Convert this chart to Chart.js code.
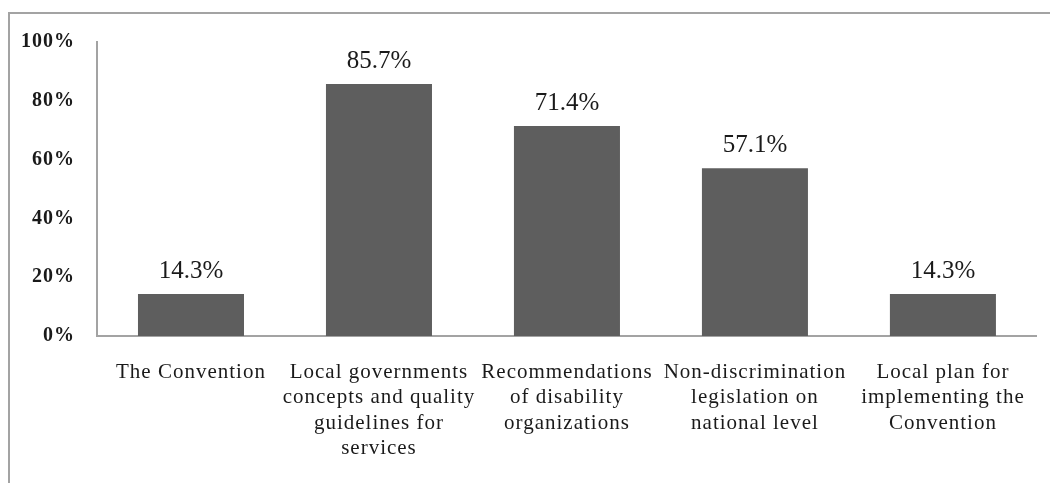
<!DOCTYPE html>
<html>
<head>
<meta charset="utf-8">
<script src="https://cdn.jsdelivr.net/npm/chart.js@4/dist/chart.umd.min.js"></script>
<style>
  html, body { margin: 0; padding: 0; background: #fff; }
  #wrap { position: relative; width: 1050px; height: 483px; overflow: hidden; }
  #frame { position: absolute; left: 8px; top: 12px; width: 1100px; height: 600px; border: 2px solid #a3a3a3; box-sizing: border-box; }
  canvas { position: absolute; left: 0; top: 0; }
</style>
</head>
<body>
<div id="wrap">
  <div id="frame"></div>
  <canvas id="c" width="1050" height="483"></canvas>
</div>
<script>
const categories = [
  ["The Convention"],
  ["Local governments", "concepts and quality", "guidelines for", "services"],
  ["Recommendations", "of disability", "organizations"],
  ["Non-discrimination", "legislation on", "national level"],
  ["Local plan for", "implementing the", "Convention"]
];
const values = [14.3, 85.7, 71.4, 57.1, 14.3];
const yTicks = [0, 20, 40, 60, 80, 100];

const SERIF = "'Liberation Serif', 'Times New Roman', serif";

const spacing = {
  id: 'spacing',
  beforeLayout(chart) { chart.ctx.letterSpacing = '1px'; },
  beforeDraw(chart) { chart.ctx.letterSpacing = '1px'; }
};

const valueLabels = {
  id: 'valueLabels',
  afterDatasetsDraw(chart) {
    const ctx = chart.ctx;
    const meta = chart.getDatasetMeta(0);
    ctx.save();
    ctx.letterSpacing = '0px';
    ctx.font = "25px " + SERIF;
    ctx.fillStyle = '#1a1a1a';
    ctx.textAlign = 'center';
    ctx.textBaseline = 'alphabetic';
    meta.data.forEach((bar, i) => {
      ctx.fillText(values[i].toFixed(1) + '%', bar.x, bar.y - 16);
    });
    ctx.restore();
  }
};

new Chart(document.getElementById('c'), {
  type: 'bar',
  data: {
    labels: categories,
    datasets: [{
      data: values,
      backgroundColor: '#5e5e5e',
      borderWidth: 0,
      categoryPercentage: 1.0,
      barPercentage: 0.564
    }]
  },
  options: {
    responsive: false,
    animation: false,
    devicePixelRatio: 1,
    layout: { padding: { left: 0, top: 42, right: 13, bottom: 0 } },
    plugins: { legend: { display: false }, tooltip: { enabled: false } },
    scales: {
      x: {
        grid: { display: false, drawTicks: false },
        border: { display: true, color: '#a3a3a3', width: 2 },
        ticks: {
          color: '#1a1a1a',
          font: { family: SERIF, size: 21, lineHeight: 1.2 },
          maxRotation: 0, minRotation: 0, autoSkip: false, padding: 24
        },
        afterFit(s) { s.height = 147; }
      },
      y: {
        min: 0, max: 100,
        afterBuildTicks(s) { s.ticks = yTicks.map(v => ({ value: v })); },
        grid: { display: false, drawTicks: false },
        border: { display: true, color: '#a3a3a3', width: 2 },
        ticks: {
          color: '#1a1a1a',
          font: { family: SERIF, size: 20, weight: 'bold' },
          padding: 22,
          callback: v => v + '%'
        },
        afterFit(s) { s.width = 97; }
      }
    }
  },
  plugins: [spacing, valueLabels]
});
</script>
</body>
</html>
